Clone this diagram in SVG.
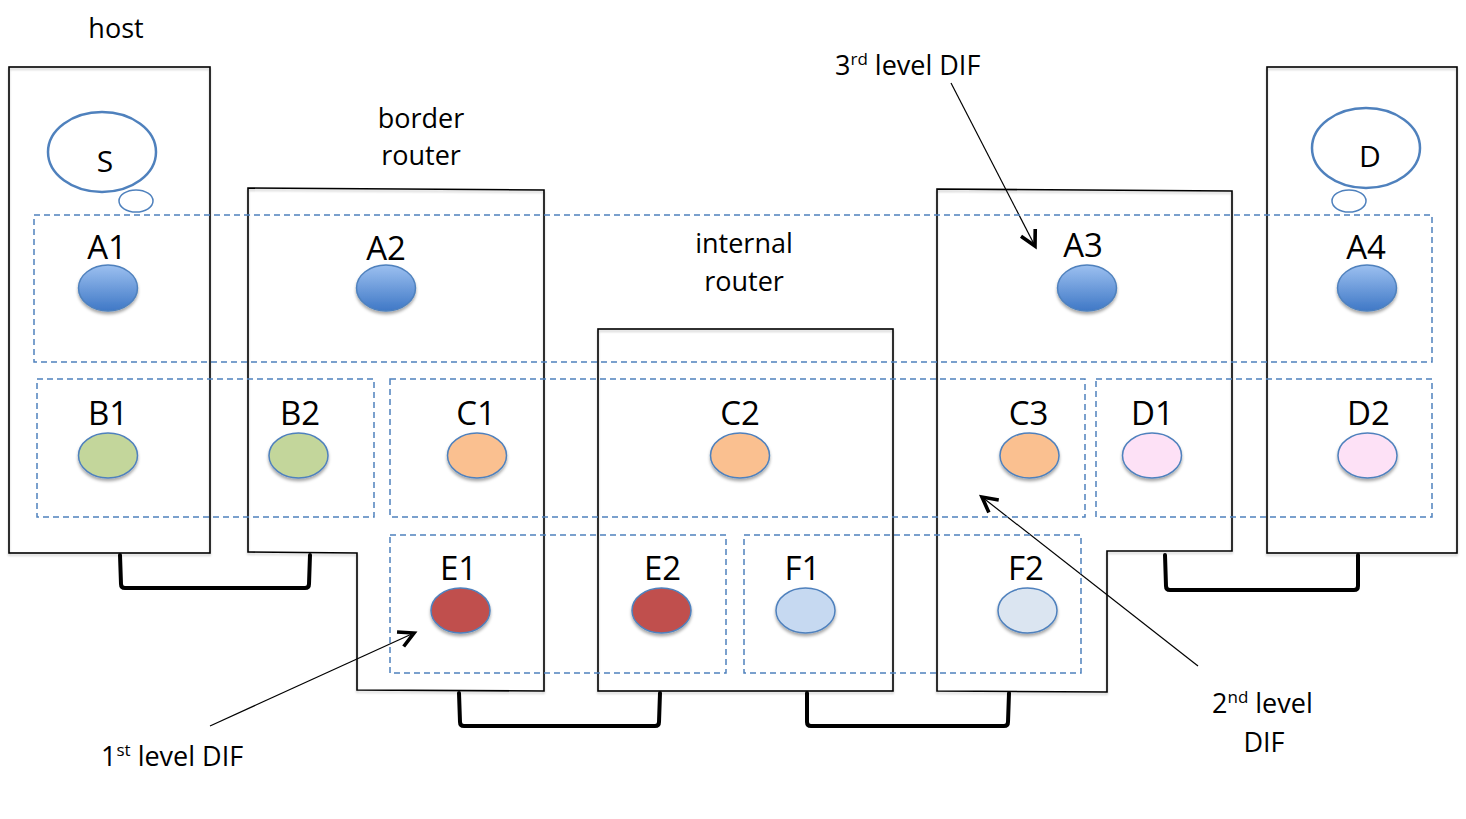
<svg xmlns="http://www.w3.org/2000/svg" width="1466" height="819" viewBox="0 0 1466 819">
<defs>
<style>
.box{fill:none;stroke:#000;stroke-width:1.6;filter:url(#bsh)}
.dif{fill:none;stroke:#4f81bd;stroke-width:1.5;stroke-dasharray:6 4}
.node{stroke:#4f81bd;stroke-width:1.5;filter:url(#sh)}
.bubble{fill:#fff;stroke:#4f81bd}
.lbl{font-family:"Open Sans","Liberation Sans",sans-serif;font-size:33px;fill:#000;text-anchor:middle}
.txt{font-family:"Open Sans","Liberation Sans",sans-serif;font-size:27px;fill:#000;text-anchor:middle}
.sup{font-size:17px}
.link{fill:none;stroke:#000;stroke-width:4;stroke-linejoin:round;stroke-linecap:round}
.ptr{fill:none;stroke:#000;stroke-width:1.2}
</style>
<linearGradient id="gA" x1="0" y1="0" x2="0" y2="1">
<stop offset="0" stop-color="#9cc0f0"/>
<stop offset="1" stop-color="#3f78c6"/>
</linearGradient>
<filter id="sh" x="-30%" y="-30%" width="160%" height="170%">
<feDropShadow dx="0" dy="2.5" stdDeviation="1.5" flood-color="#000" flood-opacity="0.35"/>
</filter>
<filter id="bsh" x="-5%" y="-5%" width="110%" height="110%">
<feDropShadow dx="0" dy="2" stdDeviation="1.2" flood-color="#000" flood-opacity="0.2"/>
</filter>
<marker id="arr" markerUnits="userSpaceOnUse" viewBox="-20 -12 24 24" refX="0" refY="0" markerWidth="24" markerHeight="24" orient="auto">
<path d="M-15,-8 L0,0 L-15,8" fill="none" stroke="#000" stroke-width="3.6" stroke-linejoin="miter"/>
</marker>
</defs>
<rect width="1466" height="819" fill="#fff"/>

<g id="boxes">
<g id="host-left"><rect class="box" x="9" y="67" width="201" height="486"/></g>
<g id="border-router-left"><path class="box" d="M248,188 L544,190 L544,691 L357,690 L357,553 L248,552 Z"/></g>
<g id="internal-router"><rect class="box" x="598" y="329" width="295" height="362"/></g>
<g id="border-router-right"><path class="box" d="M937,189 L1232,191 L1232,551 L1107,551 L1107,692 L937,691 Z"/></g>
<g id="host-right"><rect class="box" x="1267" y="67" width="190" height="486"/></g>
</g>

<g id="connectors">
<path class="link" d="M120,555 L121,584 Q121,588 125,588 L305,588 Q309,588 309,584 L310,555"/>
<path class="link" d="M459,693 L460,722 Q460,726 464,726 L655,726 Q659,726 659,722 L660,693"/>
<path class="link" d="M807,693 L807,722 Q807,726 811,726 L1004,726 Q1008,726 1008,722 L1009,693"/>
<path class="link" d="M1165,555 L1166,586 Q1166,590 1170,590 L1354,590 Q1358,590 1358,586 L1358,555"/>
<path class="ptr" marker-end="url(#arr)" d="M951,83 L1035,246"/>
<path class="ptr" marker-end="url(#arr)" d="M210,726 L414,633"/>
<path class="ptr" marker-end="url(#arr)" d="M1198,666 L982,497"/>
</g>

<g id="difs">
<g id="dif-A"><rect class="dif" x="34" y="215" width="1398" height="147"/></g>
<g id="dif-B"><rect class="dif" x="37" y="379" width="337" height="138"/></g>
<g id="dif-C"><rect class="dif" x="390" y="379" width="695" height="138"/></g>
<g id="dif-D"><rect class="dif" x="1096" y="379" width="336" height="138"/></g>
<g id="dif-E"><rect class="dif" x="390" y="535" width="336" height="138"/></g>
<g id="dif-F"><rect class="dif" x="744" y="535" width="337" height="138"/></g>
</g>

<g id="bubble-S">
<ellipse class="bubble" cx="102" cy="152" rx="54" ry="40" stroke-width="2.5"/>
<ellipse class="bubble" cx="136" cy="201" rx="17" ry="11" stroke-width="1.5"/>
<text class="lbl" x="105" y="172" style="font-size:30px">S</text>
</g>
<g id="bubble-D">
<ellipse class="bubble" cx="1366" cy="148" rx="54" ry="40" stroke-width="2.5"/>
<ellipse class="bubble" cx="1349" cy="201" rx="17" ry="11" stroke-width="1.5"/>
<text class="lbl" x="1370" y="167" style="font-size:30px">D</text>
</g>

<g id="node-A1"><ellipse class="node" cx="108" cy="288" rx="29.5" ry="23" fill="url(#gA)"/><text class="lbl" x="107" y="259">A1</text></g>
<g id="node-A2"><ellipse class="node" cx="386" cy="288" rx="29.5" ry="23" fill="url(#gA)"/><text class="lbl" x="386" y="260">A2</text></g>
<g id="node-A3"><ellipse class="node" cx="1087" cy="288" rx="29.5" ry="23" fill="url(#gA)"/><text class="lbl" x="1083" y="257">A3</text></g>
<g id="node-A4"><ellipse class="node" cx="1367" cy="288" rx="29.5" ry="23" fill="url(#gA)"/><text class="lbl" x="1366" y="259">A4</text></g>

<g id="node-B1"><ellipse class="node" cx="108" cy="455.5" rx="29.5" ry="22.5" fill="#c3d69b"/><text class="lbl" x="108" y="425">B1</text></g>
<g id="node-B2"><ellipse class="node" cx="298.5" cy="455.5" rx="29.5" ry="22.5" fill="#c3d69b"/><text class="lbl" x="300" y="425">B2</text></g>
<g id="node-C1"><ellipse class="node" cx="477" cy="455.5" rx="29.5" ry="22.5" fill="#fac090"/><text class="lbl" x="476" y="425">C1</text></g>
<g id="node-C2"><ellipse class="node" cx="740" cy="455.5" rx="29.5" ry="22.5" fill="#fac090"/><text class="lbl" x="740" y="425">C2</text></g>
<g id="node-C3"><ellipse class="node" cx="1029.5" cy="455.5" rx="29.5" ry="22.5" fill="#fac090"/><text class="lbl" x="1028.5" y="425">C3</text></g>
<g id="node-D1"><ellipse class="node" cx="1152" cy="455.5" rx="29.5" ry="22.5" fill="#fde1f6"/><text class="lbl" x="1152.5" y="425">D1</text></g>
<g id="node-D2"><ellipse class="node" cx="1367.5" cy="455.5" rx="29.5" ry="22.5" fill="#fde1f6"/><text class="lbl" x="1368.5" y="425">D2</text></g>

<g id="node-E1"><ellipse class="node" cx="460.5" cy="610.5" rx="29.5" ry="22.5" fill="#c0504d"/><text class="lbl" x="458.5" y="580">E1</text></g>
<g id="node-E2"><ellipse class="node" cx="661.5" cy="610.5" rx="29.5" ry="22.5" fill="#c0504d"/><text class="lbl" x="662.5" y="580">E2</text></g>
<g id="node-F1"><ellipse class="node" cx="805.5" cy="610.5" rx="29.5" ry="22.5" fill="#c6d9f1"/><text class="lbl" x="802.5" y="580">F1</text></g>
<g id="node-F2"><ellipse class="node" cx="1027.5" cy="610.5" rx="29.5" ry="22.5" fill="#dbe5f1"/><text class="lbl" x="1026" y="580">F2</text></g>

<g id="labels">
<text class="txt" x="116" y="38">host</text>
<text class="txt" x="421" y="128">border</text>
<text class="txt" x="421" y="165">router</text>
<text class="txt" x="744" y="253">internal</text>
<text class="txt" x="744" y="291">router</text>
<text class="txt" x="835" y="75" style="text-anchor:start">3<tspan class="sup" dy="-10">rd</tspan><tspan dy="10"> level DIF</tspan></text>
<text class="txt" x="1212" y="713" style="text-anchor:start">2<tspan class="sup" dy="-10">nd</tspan><tspan dy="10"> level</tspan></text>
<text class="txt" x="1264" y="752">DIF</text>
<text class="txt" x="101" y="766" style="text-anchor:start">1<tspan class="sup" dy="-10">st</tspan><tspan dy="10"> level DIF</tspan></text>
</g>
</svg>
